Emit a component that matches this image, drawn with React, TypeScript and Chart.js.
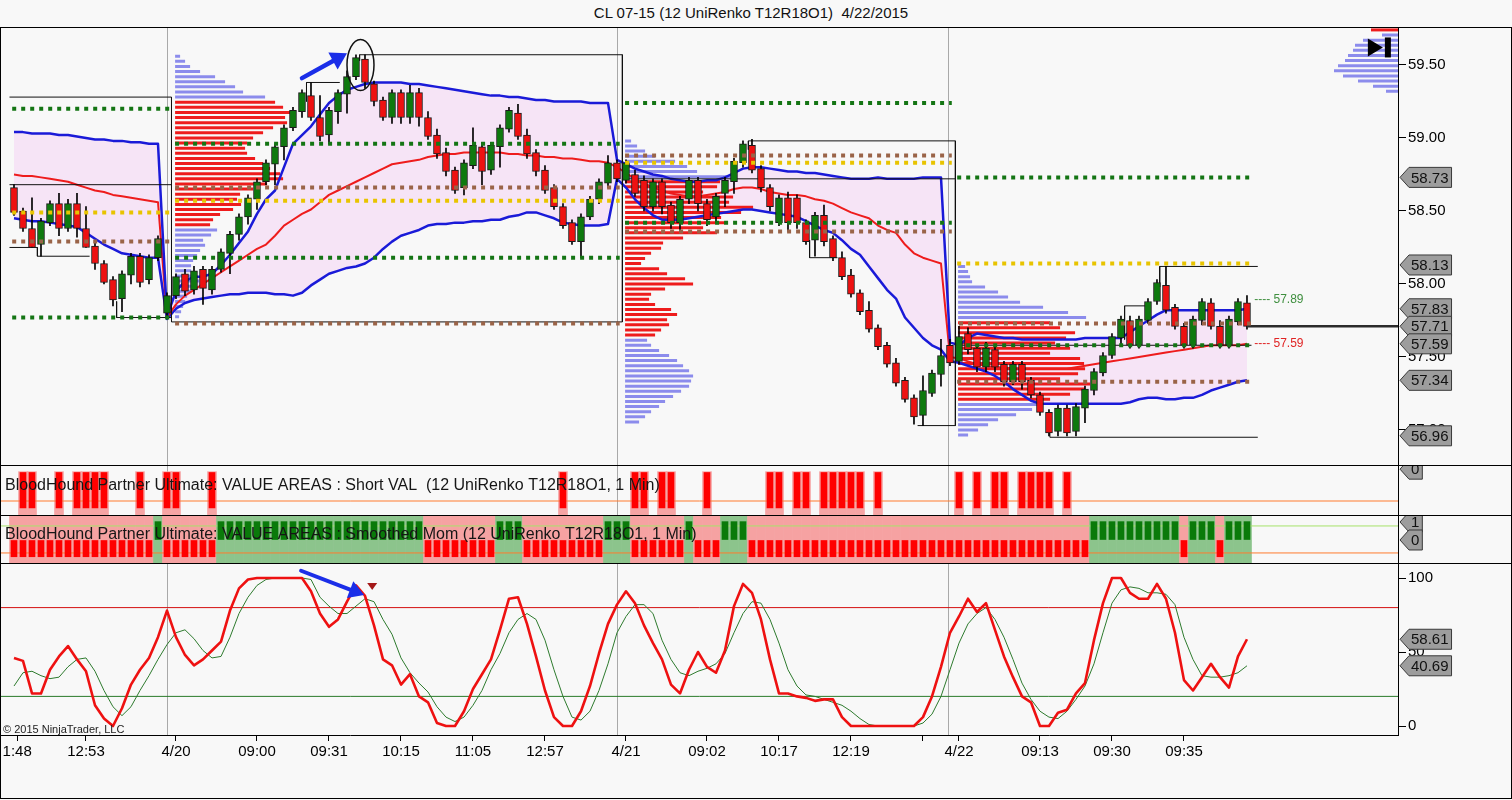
import React, { useEffect, useRef } from 'react';
import { Chart, registerables } from 'chart.js';
Chart.register(...registerables);

const FONT_FAMILY = "'Liberation Sans', Arial, Helvetica, sans-serif";
const TITLE = 'CL 07-15 (12 UniRenko T12R18O1)  4/22/2015';
const SHORT_VAL_LABEL = 'BloodHound Partner Ultimate: VALUE AREAS : Short VAL  (12 UniRenko T12R18O1, 1 Min)';
const MOM_LABEL = 'BloodHound Partner Ultimate: VALUE AREAS : Smoothed Mom (12 UniRenko T12R18O1, 1 Min)';
const COPYRIGHT = '\u00a9 2015 NinjaTrader, LLC';

// x axis: bar index scale
const X_MIN = -1.444;
const X_MAX = 153.78;

// ---------- price candles (UniRenko bars) ----------
const opens = [
  58.66, 58.50, 58.38, 58.27, 58.42, 58.55, 58.38, 58.55, 58.38, 58.26, 58.14, 58.03, 57.90, 58.06, 58.19, 58.03, 58.18,
  57.80, 57.92, 58.07, 57.96, 58.10, 57.96, 58.10, 58.21, 58.34, 58.46,
  58.58, 58.70, 58.82, 58.94, 59.07, 59.18, 59.29, 59.14, 59.02, 59.18,
  59.30, 59.42, 59.54, 59.37, 59.26, 59.14, 59.31, 59.14, 59.31, 59.14,
  59.02, 58.90, 58.78, 58.66, 58.81, 58.94, 58.78, 58.94, 59.06, 59.17,
  59.02, 58.90, 58.78, 58.66, 58.53, 58.42, 58.29, 58.46, 58.58, 58.69,
  58.83, 58.71, 58.75, 58.71, 58.53, 58.70, 58.54, 58.42, 58.58, 58.71,
  58.55, 58.46, 58.62, 58.70, 58.83, 58.95, 58.79, 58.66, 58.42, 58.59,
  58.59, 58.42, 58.30, 58.47, 58.31, 58.18, 58.06, 57.94, 57.82, 57.70,
  57.58, 57.46, 57.34, 57.22, 57.10, 57.25, 57.38,
  57.58, 57.47, 57.66, 57.56, 57.43, 57.55, 57.45, 57.33, 57.45, 57.34,
  57.24, 57.12, 56.99, 57.15, 56.99, 57.15, 57.27, 57.39, 57.51, 57.63,
  57.75, 57.58, 57.75, 57.88, 57.99, 57.84, 57.71, 57.58, 57.75, 57.87,
  57.71, 57.58, 57.74, 57.87,
];
const closes = [
  58.49, 58.38, 58.25, 58.43, 58.55, 58.38, 58.55, 58.38, 58.25, 58.14, 58.01, 57.89, 58.07, 58.19, 58.01, 58.18, 58.31,
  57.92, 58.05, 57.95, 58.09, 57.97, 58.10, 58.22, 58.34, 58.46, 58.59,
  58.70, 58.83, 58.94, 59.07, 59.19, 59.31, 59.14, 59.01, 59.19, 59.31,
  59.42, 59.55, 59.38, 59.25, 59.14, 59.31, 59.14, 59.31, 59.14, 59.01,
  58.89, 58.77, 58.64, 58.83, 58.95, 58.77, 58.95, 59.07, 59.19, 59.01,
  58.89, 58.77, 58.64, 58.53, 58.40, 58.29, 58.46, 58.58, 58.70, 58.83,
  58.72, 58.83, 58.62, 58.53, 58.70, 58.53, 58.42, 58.58, 58.71, 58.55,
  58.44, 58.60, 58.71, 58.84, 58.96, 58.78, 58.66, 58.53, 58.59, 58.42,
  58.42, 58.29, 58.47, 58.29, 58.18, 58.05, 57.93, 57.81, 57.69, 57.57,
  57.45, 57.32, 57.21, 57.09, 57.27, 57.39, 57.51,
  57.46, 57.64, 57.55, 57.43, 57.56, 57.43, 57.33, 57.45, 57.33, 57.24,
  57.12, 56.98, 57.15, 56.98, 57.16, 57.28, 57.40, 57.51, 57.64, 57.76,
  57.58, 57.76, 57.88, 58.01, 57.82, 57.71, 57.58, 57.76, 57.88, 57.71,
  57.58, 57.76, 57.88, 57.71,
];
const highs = [
  58.68, 58.52, 58.59, 58.45, 58.57, 58.62, 58.58, 58.62, 58.53, 58.28, 58.16, 58.05, 58.09, 58.21, 58.21, 58.20, 58.33,
  57.94, 58.07, 58.10, 58.12, 58.12, 58.12, 58.24, 58.36, 58.48, 58.61,
  58.72, 58.85, 58.96, 59.09, 59.21, 59.33, 59.38, 59.29, 59.21, 59.33,
  59.46, 59.57, 59.57, 59.39, 59.28, 59.33, 59.33, 59.36, 59.34, 59.18,
  59.06, 58.93, 58.80, 58.85, 59.07, 58.97, 58.97, 59.09, 59.21, 59.23,
  59.06, 58.92, 58.81, 58.68, 58.55, 58.44, 58.48, 58.60, 58.72, 58.88,
  58.85, 58.85, 58.78, 58.74, 58.72, 58.72, 58.56, 58.60, 58.73, 58.73,
  58.58, 58.62, 58.73, 58.86, 58.98, 58.99, 58.81, 58.68, 58.61, 58.63,
  58.61, 58.44, 58.49, 58.54, 58.33, 58.22, 58.10, 57.96, 57.88, 57.72,
  57.60, 57.49, 57.36, 57.24, 57.37, 57.41, 57.62,
  57.62, 57.71, 57.70, 57.58, 57.60, 57.57, 57.47, 57.47, 57.47, 57.36,
  57.26, 57.14, 57.17, 57.17, 57.18, 57.30, 57.42, 57.53, 57.66, 57.78,
  57.78, 57.78, 57.90, 58.03, 58.12, 57.86, 57.73, 57.78, 57.90, 57.90,
  57.75, 57.78, 57.90, 57.92,
];
const lows = [
  58.47, 58.36, 58.25, 58.19, 58.40, 58.33, 58.36, 58.32, 58.25, 58.10, 58.00, 57.85, 57.81, 58.00, 57.98, 58.00, 58.16,
  57.76, 57.90, 57.92, 57.93, 57.86, 57.93, 58.08, 58.07, 58.30, 58.41,
  58.51, 58.68, 58.68, 58.85, 59.05, 59.14, 59.12, 58.98, 58.96, 59.10,
  59.17, 59.40, 59.34, 59.22, 59.12, 59.10, 59.10, 59.10, 59.08, 58.99,
  58.86, 58.74, 58.62, 58.61, 58.79, 58.68, 58.75, 58.80, 59.04, 58.99,
  58.86, 58.74, 58.62, 58.51, 58.38, 58.27, 58.18, 58.44, 58.55, 58.66,
  58.70, 58.69, 58.60, 58.50, 58.50, 58.48, 58.38, 58.36, 58.55, 58.50,
  58.40, 58.42, 58.53, 58.62, 58.80, 58.76, 58.63, 58.50, 58.40, 58.36,
  58.38, 58.27, 58.19, 58.26, 58.16, 58.03, 57.91, 57.79, 57.67, 57.55,
  57.43, 57.30, 57.19, 57.04, 57.03, 57.23, 57.30,
  57.44, 57.45, 57.52, 57.40, 57.40, 57.40, 57.30, 57.31, 57.28, 57.22,
  57.10, 56.96, 56.96, 56.96, 56.96, 57.05, 57.24, 57.37, 57.49, 57.58,
  57.56, 57.56, 57.73, 57.86, 57.80, 57.69, 57.56, 57.56, 57.72, 57.69,
  57.56, 57.56, 57.72, 57.69,
];

// ---------- VWAP bands ----------
const upperBand = [
  59.04, 59.04, 59.03, 59.03, 59.03, 59.02, 59.02, 59.01, 59.00, 58.99, 58.99, 58.98, 58.98, 58.97, 58.97, 58.96, 58.96,
  57.78, 57.95, 58.02, 58.05, 58.05, 58.07, 58.13, 58.20, 58.28, 58.36,
  58.48, 58.58, 58.64, 58.80, 58.96, 59.02, 59.08, 59.16, 59.24, 59.29,
  59.33, 59.35, 59.37, 59.38, 59.38, 59.38, 59.38, 59.37, 59.37, 59.36,
  59.35, 59.34, 59.33, 59.32, 59.31, 59.30, 59.29, 59.29, 59.28, 59.28,
  59.27, 59.26, 59.26, 59.25, 59.25, 59.25, 59.25, 59.24, 59.24, 59.24,
  58.85, 58.82, 58.79, 58.77, 58.75, 58.74, 58.72, 58.71, 58.70, 58.70,
  58.71, 58.71, 58.73, 58.76, 58.79, 58.80, 58.80, 58.79, 58.78, 58.77,
  58.77, 58.76, 58.76, 58.75, 58.74, 58.73, 58.72, 58.72, 58.72, 58.73,
  58.72, 58.72, 58.72, 58.72, 58.73, 58.73, 58.73,
  57.60, 57.58, 57.63, 57.66, 57.65, 57.64, 57.63, 57.63, 57.62, 57.62,
  57.62, 57.62, 57.62, 57.62, 57.62, 57.63, 57.63, 57.63, 57.63, 57.63,
  57.67, 57.71, 57.75, 57.79, 57.82, 57.82, 57.82, 57.82, 57.82, 57.82,
  57.82, 57.82, 57.82, 57.83,
];
const midBand = [
  58.75, 58.74, 58.74, 58.73, 58.72, 58.71, 58.70, 58.68, 58.66, 58.64, 58.63, 58.61, 58.60, 58.59, 58.58, 58.57, 58.56,
  57.77, 57.86, 57.92, 57.96, 58.00, 58.04, 58.08, 58.12, 58.16, 58.20,
  58.24, 58.27, 58.33, 58.40, 58.44, 58.48, 58.51, 58.56, 58.61, 58.64,
  58.67, 58.70, 58.73, 58.76, 58.79, 58.82, 58.83, 58.84, 58.85, 58.87,
  58.88, 58.89, 58.89, 58.90, 58.90, 58.90, 58.90, 58.90, 58.89, 58.89,
  58.88, 58.88, 58.87, 58.87, 58.86, 58.86, 58.85, 58.84, 58.84, 58.83,
  58.80, 58.76, 58.72, 58.69, 58.66, 58.64, 58.62, 58.61, 58.60, 58.60,
  58.61, 58.62, 58.63, 58.65, 58.66, 58.66, 58.65, 58.63, 58.62, 58.61,
  58.61, 58.60, 58.58, 58.57, 58.55, 58.52, 58.49, 58.47, 58.45, 58.40,
  58.37, 58.35, 58.27, 58.21, 58.18, 58.16, 58.14,
  57.50, 57.49, 57.47, 57.45, 57.44, 57.43, 57.43, 57.42, 57.42, 57.42,
  57.42, 57.42, 57.42, 57.42, 57.43, 57.44, 57.45, 57.46, 57.47, 57.48,
  57.49, 57.50, 57.51, 57.52, 57.53, 57.54, 57.55, 57.56, 57.57, 57.58,
  57.58, 57.58, 57.58, 57.59,
];
const lowerBand = [
  58.45, 58.44, 58.43, 58.43, 58.42, 58.41, 58.40, 58.39, 58.35, 58.31, 58.27, 58.24, 58.21, 58.20, 58.19, 58.18, 58.18,
  57.76, 57.83, 57.87, 57.89, 57.90, 57.91, 57.92, 57.93, 57.93, 57.94,
  57.94, 57.94, 57.93, 57.93, 57.92, 57.94, 57.99, 58.03, 58.07, 58.09,
  58.11, 58.12, 58.14, 58.18, 58.24, 58.29, 58.33, 58.35, 58.37, 58.40,
  58.41, 58.41, 58.42, 58.42, 58.43, 58.43, 58.44, 58.44, 58.46, 58.47,
  58.49, 58.49, 58.47, 58.45, 58.42, 58.41, 58.40, 58.40, 58.40, 58.41,
  58.72, 58.66, 58.58, 58.52, 58.47, 58.44, 58.44, 58.44, 58.45, 58.46,
  58.47, 58.48, 58.49, 58.50, 58.51, 58.51, 58.50, 58.49, 58.48, 58.47,
  58.46, 58.43, 58.40, 58.37, 58.35, 58.30, 58.24, 58.20, 58.12, 58.04,
  57.96, 57.90, 57.77, 57.70, 57.63, 57.58, 57.55,
  57.47, 57.46, 57.44, 57.42, 57.40, 57.37, 57.33, 57.28, 57.24, 57.20,
  57.18, 57.18, 57.18, 57.18, 57.18, 57.18, 57.18, 57.18, 57.18, 57.18,
  57.19, 57.21, 57.22, 57.22, 57.21, 57.21, 57.22, 57.22, 57.24, 57.27,
  57.29, 57.31, 57.33, 57.34,
];

// ---------- volume profiles (row volumes, top row first) ----------
const PROFILE_STEP = 0.035;
const PROFILE_SCALE = 1 / 9;
const profile420 = [
  5, 10, 15, 25, 40, 50, 60, 68, 90,
  100, 108, 115, 110, 112, 98, 88, 78, 72, 70, 72, 80, 88, 95, 105, 108, 92, 78, 65, 62, 66, 58, 45, 38, 35,
  42, 36, 28, 30, 25, 22, 18, 16, 16, 20, 24, 20, 16, 12, 10, 8, 6, 4,
];
const profile421 = [
  6, 12, 20, 30, 50, 62, 72, 112,
  95, 92, 78, 108, 104, 128, 116, 96, 100, 78, 92, 58, 38, 36, 26, 20, 16, 34, 42, 60, 68, 40, 26, 24, 30, 46, 52, 42, 44, 36, 30,
  22, 26, 34, 44, 52, 58, 64, 68, 66, 64, 56, 48, 40, 34, 26, 20, 14,
];
const profile422 = [
  7, 10, 12, 14, 27, 40, 50, 62, 85, 110, 128,
  92, 102, 117, 108, 97, 112, 92, 122, 126, 127, 120, 102, 132, 127, 112, 92,
  80, 74, 58, 40, 30, 20, 10,
];
const profileTop = [27, 16, 35, 43, 45, 50, 53, 60, 64, 55, 40, 25, 12];
// [startBar, topPrice, valueAreaFirstRow, valueAreaLastRow]
const profileMeta = {
  p420: [17.9, 59.56, 9, 33],
  p421: [67.9, 58.98, 8, 38],
  p422: [104.9, 58.12, 11, 26],
  pTop: [X_MAX, 59.74, 0, 0],
};

// ---------- value-area dotted levels [fromBar, toBar, price] ----------
const greenLevels = [
  [-0.2, 17.3, 59.20], [-0.2, 17.3, 57.77], [17.9, 67.3, 58.96], [17.9, 67.3, 58.18],
  [67.9, 104.2, 59.24], [67.9, 104.2, 58.42], [104.8, 137.6, 58.73], [104.8, 137.6, 57.58],
];
const brownLevels = [
  [-0.2, 17.3, 58.29], [17.9, 67.3, 58.66], [17.9, 67.3, 57.73], [67.9, 104.2, 58.88],
  [67.9, 104.2, 58.36], [105.0, 137.6, 57.73], [104.8, 137.6, 57.33],
];
const yellowLevels = [
  [-0.2, 17.3, 58.49], [17.9, 67.3, 58.57], [67.9, 104.2, 58.83], [104.8, 137.6, 58.14],
];
// range box outlines [bar1, price1, bar2, price2]
const boxSegments = [
  [-0.5, 59.28, 17.5, 59.28], [-0.5, 58.68, 17.5, 58.68], [17.5, 59.28, 17.5, 57.74],
  [-0.5, 58.25, 2.6, 58.25], [2.6, 58.25, 2.6, 58.19], [2.6, 58.19, 8.4, 58.19],
  [11.4, 57.88, 11.4, 57.77], [11.4, 57.77, 17.5, 57.77],
  [38.4, 59.57, 67.6, 59.57], [67.6, 59.57, 67.6, 57.74], [17.5, 57.74, 67.6, 57.74],
  [32.5, 59.38, 36.2, 59.38], [32.5, 59.38, 32.5, 59.25], [38.4, 59.57, 38.4, 59.53],
  [67.6, 58.72, 104.6, 58.72], [81.6, 58.98, 104.6, 58.98], [81.6, 58.98, 81.6, 58.92],
  [104.6, 58.98, 104.6, 57.03], [100.4, 57.03, 104.6, 57.03],
  [88.4, 58.30, 88.4, 58.18], [88.4, 58.18, 91.5, 58.18],
  [104.6, 57.58, 137.5, 57.58], [127.3, 58.12, 138.2, 58.12], [127.3, 58.12, 127.3, 57.98],
  [115.1, 56.95, 138.2, 56.95], [115.1, 56.95, 115.1, 57.00],
  [123.4, 57.85, 125.9, 57.85], [123.4, 57.85, 123.4, 57.62],
];
const lastPrice = 57.71;
const priceTicks = [57.0, 57.5, 58.0, 58.5, 59.0, 59.5];
const priceTags = [58.73, 58.13, 57.83, 57.71, 57.59, 57.34, 56.96];

// ---------- indicator panels ----------
const shortVal = [
  0, 1, 1, 0, 0, 1, 0, 1, 1, 1,
  1, 0, 0, 0, 1, 0, 0, 1, 1, 0,
  0, 0, 1, 0, 0, 0, 0, 0, 0, 0,
  0, 0, 0, 0, 0, 0, 0, 0, 0, 0,
  0, 0, 0, 0, 0, 0, 0, 0, 0, 0,
  0, 0, 0, 0, 0, 0, 0, 0, 0, 0,
  0, 1, 0, 0, 0, 0, 0, 0, 0, 1,
  1, 0, 1, 1, 0, 0, 0, 1, 0, 0,
  0, 0, 0, 0, 1, 1, 0, 1, 1, 0,
  1, 1, 1, 1, 1, 0, 1, 0, 0, 0,
  0, 0, 0, 0, 0, 1, 0, 1, 0, 1,
  1, 0, 1, 1, 1, 1, 0, 1, 0, 0,
  0, 0, 0, 0, 0, 0, 0, 0, 0, 0,
  0, 0, 0, 0, 0, 0, 0, 0,
];
const smoothedMom = [
  0, 0, 0, 0, 0, 0, 0, 0, 0, 0,
  0, 0, 0, 0, 0, 0, 1, 0, 0, 0,
  0, 0, 0, 1, 1, 1, 1, 1, 1, 1,
  1, 1, 1, 1, 1, 1, 1, 1, 1, 1,
  1, 1, 1, 1, 1, 1, 0, 0, 0, 0,
  0, 0, 0, 0, 1, 1, 1, 0, 0, 0,
  0, 0, 0, 0, 0, 0, 1, 1, 1, 0,
  0, 0, 0, 0, 0, 1, 0, 0, 0, 1,
  1, 1, 0, 0, 0, 0, 0, 0, 0, 0,
  0, 0, 0, 0, 0, 0, 0, 0, 0, 0,
  0, 0, 0, 0, 0, 0, 0, 0, 0, 0,
  0, 0, 0, 0, 0, 0, 0, 0, 0, 0,
  1, 1, 1, 1, 1, 1, 1, 1, 1, 1,
  0, 1, 1, 1, 0, 1, 1, 1,
];
const stochK = [
  46, 44, 22, 22, 38, 47, 54, 45, 37, 14,
  5, 0, 12, 28, 38, 46, 60, 78, 60, 48,
  41, 45, 51, 57, 78, 93, 99, 100, 100, 100,
  100, 100, 100, 91, 76, 67, 72, 84, 95, 88,
  68, 45, 41, 28, 35, 20, 16, 2, 0, 0,
  10, 25, 35, 45, 65, 86, 87, 69, 47, 24,
  6, 0, 0, 10, 27, 49, 69, 82, 91, 83,
  68, 56, 45, 28, 22, 38, 50, 40, 36, 51,
  81, 96, 90, 72, 45, 22, 22, 20, 19, 17,
  18, 18, 6, 0, 0, 0, 0, 0, 0, 0,
  0, 6, 20, 40, 63, 74, 86, 77, 83, 65,
  47, 33, 20, 16, 0, 0, 9, 11, 22, 29,
  58, 83, 100, 100, 90, 86, 86, 96, 86, 63,
  31, 24, 33, 42, 33, 26, 47, 58.61,
];
const stochD = [
  27, 36, 37, 34, 32, 33, 40, 45, 46, 37,
  24, 13, 7, 13, 24, 34, 45, 55, 63, 65,
  59, 51, 46, 47, 60, 76, 87, 95, 99, 100,
  100, 100, 100, 99, 87, 81, 76, 76, 81, 86,
  84, 72, 62, 46, 36, 29, 23, 13, 6, 3,
  6, 14, 24, 38, 49, 63, 72, 76, 72, 58,
  38, 20, 6, 4, 10, 24, 42, 63, 74, 82,
  82, 76, 58, 45, 36, 34, 37, 39, 42, 49,
  63, 76, 84, 83, 72, 56, 38, 27, 21, 20,
  18, 16, 14, 10, 5, 1, 0, 0, 0, 0,
  0, 2, 8, 20, 38, 56, 69, 76, 80, 72,
  60, 45, 29, 18, 10, 6, 5, 10, 18, 27,
  42, 63, 83, 92, 94, 93, 90, 90, 89, 82,
  60, 45, 34, 33, 33, 34, 36, 40.69,
];
const stochLevels = [80, 20];
const stochTicks = [0, 50, 100];

// ---------- time axis ----------
const tickIdx = [0.35, 8, 18, 27, 35, 43, 51, 59, 68, 77, 85, 93, 101, 105, 114, 122, 130];
const tickLabels = ['1:48', '12:53', '4/20', '09:00', '09:31', '10:15', '11:05', '12:57', '4/21', '09:02', '10:17', '12:19', '', '4/22', '09:13', '09:30', '09:35'];
const sessionBreaks = [17.0, 67.0, 103.8];

// ---------- helpers ----------
const pts = (arr: number[]) => arr.map((v, i) => ({ x: i, y: v }));
const hline = (y: number, from = X_MIN, to = X_MAX) => [{ x: from, y }, { x: to, y }];
const levelData = (list: number[][]) => {
  const out: any[] = [];
  list.forEach(([a, b, p]) => out.push({ x: a, y: p }, { x: b, y: p }, { x: b, y: null }));
  return out;
};
const segData = (list: number[][]) => {
  const out: any[] = [];
  list.forEach(([a, p, b, q]) => out.push({ x: a, y: p }, { x: b, y: q }, { x: b, y: null }));
  return out;
};
const profileData = (vols: number[], meta: number[], right: boolean, inVA: boolean) => {
  const [anchor, top, vaFrom, vaTo] = meta;
  const out: any[] = [];
  vols.forEach((v, k) => {
    const isVA = k >= vaFrom && k <= vaTo;
    if (isVA !== inVA) return;
    const p = top - k * PROFILE_STEP;
    const len = v * PROFILE_SCALE;
    const a = right ? anchor - len : anchor;
    const b = right ? anchor : anchor + len;
    out.push({ x: a, y: p }, { x: b, y: p }, { x: b, y: null });
  });
  return out;
};
const lineDs = (data: any[], color: string, width: number, order: number, extra: any = {}) => ({
  type: 'line', data, borderColor: color, borderWidth: width, pointRadius: 0, pointHoverRadius: 0,
  tension: 0, fill: false, order, spanGaps: false, borderCapStyle: 'butt', ...extra,
});

const fitRight = (s: any) => { s.width = 114; s.paddingTop = 0; s.paddingBottom = 0; };

const sessionPlugin = {
  id: 'sessionLines',
  beforeDatasetsDraw(chart: any) {
    const { ctx, chartArea, scales } = chart;
    ctx.save();
    ctx.strokeStyle = '#a9a9a9';
    ctx.lineWidth = 1;
    sessionBreaks.forEach((v) => {
      const px = Math.round(scales.x.getPixelForValue(v)) + 0.5;
      ctx.beginPath();
      ctx.moveTo(px, chartArea.top);
      ctx.lineTo(px, chartArea.bottom);
      ctx.stroke();
    });
    ctx.restore();
  },
};

const makeTagPlugin = (items: { value: number; text: string }[]) => ({
  id: 'tags',
  afterDraw(chart: any) {
    const { ctx, chartArea, scales } = chart;
    ctx.save();
    ctx.font = `15px ${FONT_FAMILY}`;
    ctx.textBaseline = 'middle';
    items.forEach((it) => {
      const py = scales.y.getPixelForValue(it.value);
      const w = ctx.measureText(it.text).width;
      const x0 = chartArea.right + 2;
      const x1 = x0 + 9;
      const x2 = x1 + w + 5;
      const h = 10;
      ctx.beginPath();
      ctx.moveTo(x0, py);
      ctx.lineTo(x1, py - h);
      ctx.lineTo(x2, py - h);
      ctx.lineTo(x2, py + h);
      ctx.lineTo(x1, py + h);
      ctx.closePath();
      ctx.fillStyle = '#9d9d9d';
      ctx.fill();
      ctx.strokeStyle = '#3a3a3a';
      ctx.lineWidth = 1;
      ctx.stroke();
      ctx.fillStyle = '#111';
      ctx.fillText(it.text, x1 + 2, py + 1);
    });
    ctx.restore();
  },
});

const makeLabelPlugin = (text: string, yOffset: number, maxWidth: number) => ({
  id: 'panelLabel',
  afterDatasetsDraw(chart: any) {
    const { ctx, chartArea } = chart;
    ctx.save();
    ctx.font = `16px ${FONT_FAMILY}`;
    ctx.fillStyle = '#161616';
    ctx.textBaseline = 'middle';
    ctx.fillText(text, 5, chartArea.top + yOffset, maxWidth);
    ctx.restore();
  },
});

function drawArrow(ctx: any, x0: number, y0: number, x1: number, y1: number, color: string, width: number, head: number) {
  const ang = Math.atan2(y1 - y0, x1 - x0);
  const bx = x1 - head * Math.cos(ang);
  const by = y1 - head * Math.sin(ang);
  ctx.strokeStyle = color;
  ctx.fillStyle = color;
  ctx.lineWidth = width;
  ctx.lineCap = 'round';
  ctx.beginPath();
  ctx.moveTo(x0, y0);
  ctx.lineTo(bx, by);
  ctx.stroke();
  const hw = head * 0.6;
  ctx.beginPath();
  ctx.moveTo(x1, y1);
  ctx.lineTo(bx + hw * Math.sin(ang), by - hw * Math.cos(ang));
  ctx.lineTo(bx - hw * Math.sin(ang), by + hw * Math.cos(ang));
  ctx.closePath();
  ctx.fill();
}

const mainAnnotPlugin = {
  id: 'mainAnnot',
  afterDatasetsDraw(chart: any) {
    const { ctx, scales } = chart;
    const x = scales.x;
    const y = scales.y;
    ctx.save();
    drawArrow(ctx, x.getPixelForValue(32.0), y.getPixelForValue(59.41), x.getPixelForValue(37.0), y.getPixelForValue(59.58), '#1b2ee8', 4.5, 16);
    ctx.beginPath();
    ctx.ellipse(x.getPixelForValue(38.5), y.getPixelForValue(59.50), 13.5, 25.5, 0, 0, Math.PI * 2);
    ctx.strokeStyle = '#111';
    ctx.lineWidth = 1.5;
    ctx.stroke();
    ctx.font = `12px ${FONT_FAMILY}`;
    ctx.textBaseline = 'middle';
    ctx.fillStyle = '#3f8f3f';
    ctx.fillText('---- 57.89', x.getPixelForValue(137.8), y.getPixelForValue(57.89));
    ctx.fillStyle = '#e02424';
    ctx.fillText('---- 57.59', x.getPixelForValue(137.8), y.getPixelForValue(57.59));
    const gx = x.getPixelForValue(152.1);
    const gy = y.getPixelForValue(59.62);
    ctx.fillStyle = '#000';
    ctx.beginPath();
    ctx.moveTo(gx - 15, gy - 9);
    ctx.lineTo(gx, gy);
    ctx.lineTo(gx - 15, gy + 9);
    ctx.closePath();
    ctx.fill();
    ctx.fillRect(gx + 2, gy - 10, 6, 20);
    ctx.restore();
  },
};

const stochAnnotPlugin = {
  id: 'stochAnnot',
  afterDatasetsDraw(chart: any) {
    const { ctx, scales, chartArea } = chart;
    const x = scales.x;
    const y = scales.y;
    ctx.save();
    drawArrow(ctx, x.getPixelForValue(31.9), y.getPixelForValue(104.9), x.getPixelForValue(38.9), y.getPixelForValue(88.5), '#1b2ee8', 4, 15);
    const tx = x.getPixelForValue(39.8);
    const ty = y.getPixelForValue(94);
    ctx.fillStyle = '#a41818';
    ctx.beginPath();
    ctx.moveTo(tx - 5, ty - 4);
    ctx.lineTo(tx + 5, ty - 4);
    ctx.lineTo(tx, ty + 3);
    ctx.closePath();
    ctx.fill();
    ctx.font = `11px ${FONT_FAMILY}`;
    ctx.fillStyle = '#222';
    ctx.textBaseline = 'alphabetic';
    ctx.fillText(COPYRIGHT, chartArea.left + 2, chartArea.bottom - 2);
    ctx.restore();
  },
};

const baseOptions = (scales: any) => ({
  responsive: false,
  animation: false,
  devicePixelRatio: 1,
  events: [],
  layout: { padding: { left: 1, right: 0, top: 0, bottom: 0 }, autoPadding: false },
  plugins: { legend: { display: false }, tooltip: { enabled: false }, title: { display: false } },
  datasets: { bar: { grouped: false } },
  scales,
});

const hiddenX = { type: 'linear', min: X_MIN, max: X_MAX, display: false, offset: false, grid: { offset: false } };
const plainRightY = (min: number, max: number, reverse = false) => ({
  type: 'linear', position: 'right', min, max, reverse,
  afterFit: fitRight,
  ticks: { display: false },
  grid: { drawOnChartArea: false, drawTicks: false },
  border: { display: true, color: '#000', width: 1 },
});

const GREEN_CANDLE = '#0e7a0e';
const RED_CANDLE = '#ee1111';
const BAND_BLUE = '#1a1ad8';
const PINK = 'rgb(246,228,246)';
const PROF_RED = '#ee1c1c';
const PROF_BLUE = '#8c8cec';

function mainConfig(): any {
  const idx = opens.map((_, i) => i);
  const datasets: any[] = [
    lineDs(pts(upperBand), 'rgba(0,0,0,0)', 1, 50, { fill: '+1', backgroundColor: PINK }),
    lineDs(pts(lowerBand), 'rgba(0,0,0,0)', 1, 50),
    lineDs(profileData(profile420, profileMeta.p420, false, true), PROF_RED, 3, 40),
    lineDs(profileData(profile420, profileMeta.p420, false, false), PROF_BLUE, 3, 40),
    lineDs(profileData(profile421, profileMeta.p421, false, true), PROF_RED, 3, 40),
    lineDs(profileData(profile421, profileMeta.p421, false, false), PROF_BLUE, 3, 40),
    lineDs(profileData(profile422, profileMeta.p422, false, true), PROF_RED, 3, 40),
    lineDs(profileData(profile422, profileMeta.p422, false, false), PROF_BLUE, 3, 40),
    lineDs(profileData(profileTop, profileMeta.pTop, true, true), PROF_RED, 3, 40),
    lineDs(profileData(profileTop, profileMeta.pTop, true, false), PROF_BLUE, 3, 40),
    lineDs(levelData(greenLevels), '#147514', 4, 2, { borderDash: [4, 5] }),
    lineDs(levelData(brownLevels), '#9a6448', 4, 2, { borderDash: [4, 5] }),
    lineDs(levelData(yellowLevels), '#e8c400', 4, 2, { borderDash: [4, 5] }),
    lineDs(segData(boxSegments), '#111', 1, 6),
    lineDs(pts(upperBand), BAND_BLUE, 2.5, 8, { borderJoinStyle: 'round' }),
    lineDs(pts(midBand), '#ee1c1c', 2, 8, { borderJoinStyle: 'round' }),
    lineDs(pts(lowerBand), BAND_BLUE, 2.5, 8, { borderJoinStyle: 'round' }),
    {
      type: 'bar', order: 5, barThickness: 1, grouped: false, backgroundColor: '#000', borderWidth: 0,
      data: idx.map((i) => ({ x: i, y: [lows[i], highs[i]] })),
    },
    {
      type: 'bar', order: 4, barThickness: 7, grouped: false, borderWidth: 1, borderColor: '#1a1a1a', borderSkipped: false,
      backgroundColor: (c: any) => (closes[c.dataIndex] >= opens[c.dataIndex] ? GREEN_CANDLE : RED_CANDLE),
      data: idx.map((i) => ({ x: i, y: [opens[i], closes[i]] })),
    },
    lineDs(hline(lastPrice, opens.length - 1, X_MAX), '#2b2b2b', 2.5, 3),
  ];
  return {
    type: 'line',
    data: { datasets },
    options: baseOptions({
      x: hiddenX,
      y: {
        type: 'linear', position: 'right', min: 56.76, max: 59.76,
        afterFit: fitRight,
        afterBuildTicks: (s: any) => { s.ticks = priceTicks.map((v) => ({ value: v })); },
        ticks: { callback: (v: any) => Number(v).toFixed(2), color: '#000', font: { family: FONT_FAMILY, size: 15 }, padding: 2 },
        grid: { drawOnChartArea: false, drawTicks: true, tickLength: 8, color: '#000' },
        border: { display: true, color: '#000', width: 1 },
      },
    }),
    plugins: [sessionPlugin, mainAnnotPlugin, makeTagPlugin(priceTags.map((v) => ({ value: v, text: v.toFixed(2) })))],
  };
}

function shortValConfig(): any {
  const on = shortVal.map((v, i) => (v ? i : -1)).filter((i) => i >= 0);
  return {
    type: 'line',
    data: {
      datasets: [
        { type: 'bar', order: 3, barThickness: 9, grouped: false, backgroundColor: '#f6a4a4', borderWidth: 0, data: on.map((i) => ({ x: i, y: [0.06, 1.1] })) },
        lineDs(hline(0.764), '#ff7b2e', 1, 2),
        { type: 'bar', order: 1, barThickness: 6, grouped: false, backgroundColor: '#ff0000', borderWidth: 0, data: on.map((i) => ({ x: i, y: [0.08, 0.93] })) },
      ],
    },
    options: baseOptions({ x: hiddenX, y: plainRightY(-0.1, 1.1, true) }),
    plugins: [sessionPlugin, makeLabelPlugin(SHORT_VAL_LABEL, 21, 663), makeTagPlugin([{ value: 0, text: '0' }])],
  };
}

function momConfig(): any {
  const idx = smoothedMom.map((_, i) => i);
  return {
    type: 'line',
    data: {
      datasets: [
        {
          type: 'bar', order: 6, barThickness: 9, grouped: false, borderWidth: 0,
          backgroundColor: (c: any) => (smoothedMom[c.dataIndex] ? '#8cc48c' : '#f6a2a2'),
          data: idx.map((i) => ({ x: i, y: [-1.278, 1.389] })),
        },
        lineDs(hline(0.78), '#a6e36a', 1, 4),
        lineDs(hline(-0.72), '#ff7b2e', 1, 4),
        {
          type: 'bar', order: 1, barThickness: 6, grouped: false, borderWidth: 0, backgroundColor: '#0a7a0a',
          data: idx.filter((i) => smoothedMom[i] === 1).map((i) => ({ x: i, y: [0, 1.02] })),
        },
        {
          type: 'bar', order: 1, barThickness: 6, grouped: false, borderWidth: 0, backgroundColor: '#ff0000',
          data: idx.filter((i) => smoothedMom[i] === 0).map((i) => ({ x: i, y: [0, -0.93] })),
        },
      ],
    },
    options: baseOptions({ x: hiddenX, y: plainRightY(-1.278, 1.389) }),
    plugins: [sessionPlugin, makeLabelPlugin(MOM_LABEL, 20, 698), makeTagPlugin([{ value: 1, text: '1' }, { value: 0, text: '0' }])],
  };
}

function stochConfig(): any {
  return {
    type: 'line',
    data: {
      datasets: [
        lineDs(hline(stochLevels[0]), '#d41010', 1, 6),
        lineDs(hline(stochLevels[1]), '#2a7a2a', 1, 6),
        lineDs(pts(stochD), '#2d7a2d', 1, 3, { borderJoinStyle: 'round' }),
        lineDs(pts(stochK), '#ee1111', 2.6, 1, { borderJoinStyle: 'round' }),
      ],
    },
    options: baseOptions({
      x: {
        type: 'linear', position: 'bottom', min: X_MIN, max: X_MAX, offset: false,
        afterBuildTicks: (s: any) => { s.ticks = tickIdx.map((v) => ({ value: v })); },
        afterFit: (s: any) => { s.height = 35; s.paddingLeft = 0; s.paddingRight = 0; },
        ticks: { autoSkip: false, maxRotation: 0, minRotation: 0, callback: (_v: any, i: number) => tickLabels[i], color: '#000', font: { family: FONT_FAMILY, size: 15 }, padding: 2 },
        grid: { drawOnChartArea: false, drawTicks: true, tickLength: 6, color: '#000', offset: false },
        border: { display: true, color: '#000', width: 1 },
      },
      y: {
        type: 'linear', position: 'right', min: -6.08, max: 110.14,
        afterFit: fitRight,
        afterBuildTicks: (s: any) => { s.ticks = stochTicks.map((v) => ({ value: v })); },
        ticks: { callback: (v: any) => String(v), color: '#000', font: { family: FONT_FAMILY, size: 15 }, padding: 2 },
        grid: { drawOnChartArea: false, drawTicks: true, tickLength: 8, color: '#000' },
        border: { display: true, color: '#000', width: 1 },
      },
    }),
    plugins: [sessionPlugin, stochAnnotPlugin, makeTagPlugin([
      { value: stochK[stochK.length - 1], text: stochK[stochK.length - 1].toFixed(2) },
      { value: stochD[stochD.length - 1], text: stochD[stochD.length - 1].toFixed(2) },
    ])],
  };
}

export default function App() {
  const r1 = useRef<HTMLCanvasElement>(null);
  const r2 = useRef<HTMLCanvasElement>(null);
  const r3 = useRef<HTMLCanvasElement>(null);
  const r4 = useRef<HTMLCanvasElement>(null);

  useEffect(() => {
    const charts = [
      new Chart(r1.current as any, mainConfig()),
      new Chart(r2.current as any, shortValConfig()),
      new Chart(r3.current as any, momConfig()),
      new Chart(r4.current as any, stochConfig()),
    ];
    return () => charts.forEach((c) => c.destroy());
  }, []);

  const line = (left: number, top: number, width: number, height: number) => (
    <div style={{ position: 'absolute', left, top, width, height, background: '#000', zIndex: 5 }} />
  );

  return (
    <div style={{ position: 'fixed', left: 0, top: 0, width: 1512, height: 800, background: '#f8f8f8', overflow: 'hidden' }}>
      <div style={{ position: 'absolute', left: 0, top: 4, width: 1502, textAlign: 'center', font: `15px ${FONT_FAMILY}`, color: '#111', whiteSpace: 'pre', lineHeight: '18px' }}>
        {TITLE}
      </div>
      <canvas ref={r1} width={1512} height={438} style={{ position: 'absolute', left: 0, top: 27 }} />
      <canvas ref={r2} width={1512} height={50} style={{ position: 'absolute', left: 0, top: 465 }} />
      <canvas ref={r3} width={1512} height={48} style={{ position: 'absolute', left: 0, top: 515 }} />
      <canvas ref={r4} width={1512} height={207} style={{ position: 'absolute', left: 0, top: 563 }} />
      {line(0, 27, 1512, 1)}
      {line(0, 465, 1512, 1)}
      {line(0, 515, 1512, 1)}
      {line(0, 563, 1512, 1)}
      {line(0, 27, 1, 772)}
      {line(1511, 27, 1, 772)}
      {line(0, 798, 1512, 1)}
    </div>
  );
}
